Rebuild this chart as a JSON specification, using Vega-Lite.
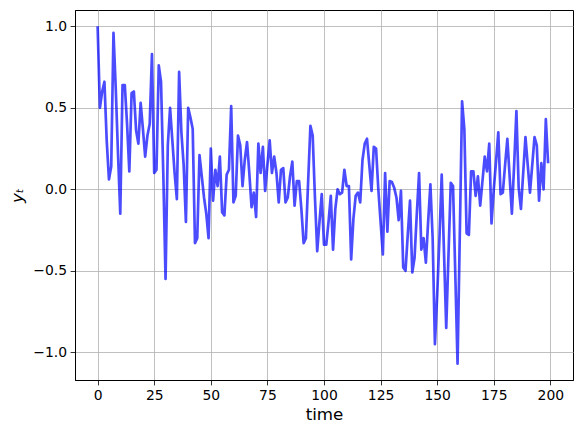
{
  "$schema": "https://vega.github.io/schema/vega-lite/v6.json",
  "width": 498,
  "height": 370,
  "autosize": {"type": "none"},
  "padding": {"left": 75, "top": 10, "right": 8, "bottom": 53},
  "background": "white",
  "config": {
    "view": {"stroke": "black", "strokeWidth": 1},
    "font": "DejaVu Sans",
    "axis": {
      "domainColor": "black", "domainWidth": 1,
      "tickColor": "black", "tickWidth": 0.8, "tickSize": 4.9,
      "labelColor": "black", "labelFontSize": 13.9, "labelPadding": 3.5,
      "labelFont": "DejaVu Sans",
      "titleColor": "black", "titleFontSize": 16.7, "titleFontWeight": "normal",
      "titleFont": "DejaVu Sans",
      "gridColor": "#b0b0b0", "gridWidth": 0.8
    }
  },
  "data": {"values": [
    {"t":0,"y":1.0},{"t":1,"y":0.5},{"t":2,"y":0.6},{"t":3,"y":0.66},{"t":4,"y":0.3},
    {"t":5,"y":0.06},{"t":6,"y":0.14},{"t":7,"y":0.96},{"t":8,"y":0.62},{"t":9,"y":0.22},
    {"t":10,"y":-0.15},{"t":11,"y":0.64},{"t":12,"y":0.64},{"t":13,"y":0.4},{"t":14,"y":0.11},
    {"t":15,"y":0.59},{"t":16,"y":0.6},{"t":17,"y":0.36},{"t":18,"y":0.28},{"t":19,"y":0.53},
    {"t":20,"y":0.37},{"t":21,"y":0.2},{"t":22,"y":0.33},{"t":23,"y":0.4},{"t":24,"y":0.83},
    {"t":25,"y":0.1},{"t":26,"y":0.12},{"t":27,"y":0.76},{"t":28,"y":0.66},{"t":29,"y":0.1},
    {"t":30,"y":-0.55},{"t":31,"y":0.27},{"t":32,"y":0.5},{"t":33,"y":0.3},{"t":34,"y":0.1},
    {"t":35,"y":-0.06},{"t":36,"y":0.72},{"t":37,"y":0.35},{"t":38,"y":0.15},{"t":39,"y":-0.2},
    {"t":40,"y":0.5},{"t":41,"y":0.44},{"t":42,"y":0.37},{"t":43,"y":-0.33},{"t":44,"y":-0.3},
    {"t":45,"y":0.21},{"t":46,"y":0.08},{"t":47,"y":-0.05},{"t":48,"y":-0.15},{"t":49,"y":-0.3},
    {"t":50,"y":0.25},{"t":51,"y":-0.07},{"t":52,"y":0.12},{"t":53,"y":0.02},{"t":54,"y":0.2},
    {"t":55,"y":-0.14},{"t":56,"y":-0.16},{"t":57,"y":0.09},{"t":58,"y":0.12},{"t":59,"y":0.51},
    {"t":60,"y":-0.08},{"t":61,"y":-0.04},{"t":62,"y":0.33},{"t":63,"y":0.27},{"t":64,"y":0.02},
    {"t":65,"y":0.18},{"t":66,"y":0.29},{"t":67,"y":0.1},{"t":68,"y":-0.11},{"t":69,"y":-0.02},
    {"t":70,"y":-0.17},{"t":71,"y":0.28},{"t":72,"y":0.1},{"t":73,"y":0.26},{"t":74,"y":-0.01},
    {"t":75,"y":0.15},{"t":76,"y":0.3},{"t":77,"y":0.1},{"t":78,"y":0.2},{"t":79,"y":0.1},
    {"t":80,"y":-0.08},{"t":81,"y":0.12},{"t":82,"y":0.13},{"t":83,"y":-0.08},{"t":84,"y":-0.05},
    {"t":85,"y":0.08},{"t":86,"y":0.17},{"t":87,"y":-0.1},{"t":88,"y":0.05},{"t":89,"y":0.05},
    {"t":90,"y":-0.12},{"t":91,"y":-0.33},{"t":92,"y":-0.3},{"t":93,"y":0.05},{"t":94,"y":0.39},
    {"t":95,"y":0.33},{"t":96,"y":-0.05},{"t":97,"y":-0.38},{"t":98,"y":-0.2},{"t":99,"y":-0.03},
    {"t":100,"y":-0.34},{"t":101,"y":-0.34},{"t":102,"y":-0.2},{"t":103,"y":-0.04},{"t":104,"y":-0.37},
    {"t":105,"y":-0.12},{"t":106,"y":0.0},{"t":107,"y":-0.03},{"t":108,"y":-0.02},{"t":109,"y":0.12},
    {"t":110,"y":0.02},{"t":111,"y":0.02},{"t":112,"y":-0.43},{"t":113,"y":-0.18},{"t":114,"y":-0.04},
    {"t":115,"y":-0.02},{"t":116,"y":-0.08},{"t":117,"y":0.18},{"t":118,"y":0.28},{"t":119,"y":0.31},
    {"t":120,"y":0.15},{"t":121,"y":-0.01},{"t":122,"y":0.26},{"t":123,"y":0.25},{"t":124,"y":0.0},
    {"t":125,"y":-0.2},{"t":126,"y":-0.4},{"t":127,"y":0.1},{"t":128,"y":-0.26},{"t":129,"y":0.05},
    {"t":130,"y":0.045},{"t":131,"y":0.01},{"t":132,"y":-0.05},{"t":133,"y":-0.19},{"t":134,"y":-0.01},
    {"t":135,"y":-0.48},{"t":136,"y":-0.5},{"t":137,"y":-0.28},{"t":138,"y":-0.07},{"t":139,"y":-0.51},
    {"t":140,"y":-0.42},{"t":141,"y":-0.15},{"t":142,"y":0.1},{"t":143,"y":-0.37},{"t":144,"y":-0.3},
    {"t":145,"y":-0.45},{"t":146,"y":-0.2},{"t":147,"y":0.03},{"t":148,"y":-0.3},{"t":149,"y":-0.95},
    {"t":150,"y":-0.65},{"t":151,"y":-0.3},{"t":152,"y":0.09},{"t":153,"y":-0.38},{"t":154,"y":-0.85},
    {"t":155,"y":-0.4},{"t":156,"y":0.04},{"t":157,"y":0.02},{"t":158,"y":-0.52},{"t":159,"y":-1.07},
    {"t":160,"y":-0.27},{"t":161,"y":0.54},{"t":162,"y":0.37},{"t":163,"y":-0.27},{"t":164,"y":-0.28},
    {"t":165,"y":0.11},{"t":166,"y":0.11},{"t":167,"y":-0.04},{"t":168,"y":0.08},{"t":169,"y":-0.1},
    {"t":170,"y":0.05},{"t":171,"y":0.2},{"t":172,"y":0.11},{"t":173,"y":0.28},{"t":174,"y":-0.21},
    {"t":175,"y":0.0},{"t":176,"y":0.17},{"t":177,"y":0.35},{"t":178,"y":-0.03},{"t":179,"y":-0.02},
    {"t":180,"y":0.15},{"t":181,"y":0.31},{"t":182,"y":0.08},{"t":183,"y":-0.15},{"t":184,"y":0.15},
    {"t":185,"y":0.48},{"t":186,"y":0.01},{"t":187,"y":-0.12},{"t":188,"y":0.1},{"t":189,"y":0.32},
    {"t":190,"y":0.15},{"t":191,"y":-0.02},{"t":192,"y":0.15},{"t":193,"y":0.32},{"t":194,"y":0.27},
    {"t":195,"y":-0.07},{"t":196,"y":0.16},{"t":197,"y":0.0},{"t":198,"y":0.43},{"t":199,"y":0.16}
  ]},
  "mark": {"type": "line", "color": "#0000ff", "opacity": 0.7, "strokeWidth": 2.7, "strokeJoin": "round", "strokeCap": "butt", "clip": true},
  "encoding": {
    "x": {
      "field": "t", "type": "quantitative",
      "scale": {"domain": [-10, 210], "nice": false, "zero": false},
      "axis": {"title": "time", "values": [0, 25, 50, 75, 100, 125, 150, 175, 200], "format": "d", "titlePadding": 4}
    },
    "y": {
      "field": "y", "type": "quantitative",
      "scale": {"domain": [-1.17, 1.1], "nice": false, "zero": false},
      "axis": {"title": "yₜ", "titleFontStyle": "italic", "values": [-1, -0.5, 0, 0.5, 1], "format": ".1f", "titlePadding": 6}
    }
  }
}
